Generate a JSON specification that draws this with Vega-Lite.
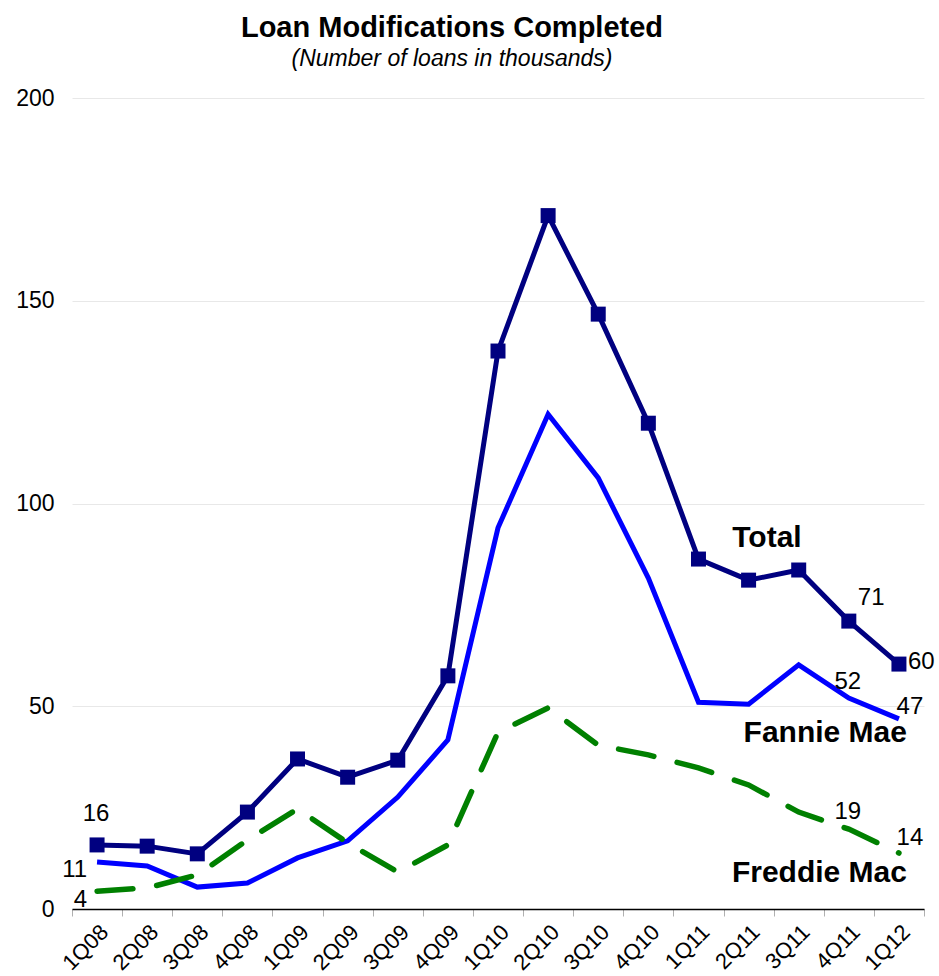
{
  "$schema": "https://vega.github.io/schema/vega-lite/v6.json",
  "autosize": {"type": "none"},
  "padding": {"left": 72, "top": 98, "right": 15, "bottom": 67},
  "width": 852,
  "height": 811,
  "background": "white",
  "config": {
    "font": "Liberation Sans",
    "view": {"stroke": null}
  },
  "title": {
    "text": "Loan Modifications Completed",
    "subtitle": "(Number of loans in thousands)",
    "fontSize": 29,
    "fontWeight": "bold",
    "font": "Liberation Sans",
    "color": "black",
    "subtitleFontSize": 23,
    "subtitleFontStyle": "italic",
    "subtitleFont": "Liberation Sans",
    "subtitleColor": "black",
    "subtitlePadding": 5,
    "anchor": "middle",
    "dx": -46,
    "offset": 16
  },
  "datasets": {
    "series": [
      {"quarter": "1Q08", "series": "Total", "value": 15.8},
      {"quarter": "2Q08", "series": "Total", "value": 15.5},
      {"quarter": "3Q08", "series": "Total", "value": 13.6},
      {"quarter": "4Q08", "series": "Total", "value": 23.9},
      {"quarter": "1Q09", "series": "Total", "value": 37.0},
      {"quarter": "2Q09", "series": "Total", "value": 32.5},
      {"quarter": "3Q09", "series": "Total", "value": 36.7},
      {"quarter": "4Q09", "series": "Total", "value": 57.5},
      {"quarter": "1Q10", "series": "Total", "value": 137.6},
      {"quarter": "2Q10", "series": "Total", "value": 171.0},
      {"quarter": "3Q10", "series": "Total", "value": 146.7},
      {"quarter": "4Q10", "series": "Total", "value": 119.8},
      {"quarter": "1Q11", "series": "Total", "value": 86.3},
      {"quarter": "2Q11", "series": "Total", "value": 81.1},
      {"quarter": "3Q11", "series": "Total", "value": 83.6},
      {"quarter": "4Q11", "series": "Total", "value": 71.0},
      {"quarter": "1Q12", "series": "Total", "value": 60.4},
      {"quarter": "1Q08", "series": "Fannie Mae", "value": 11.6},
      {"quarter": "2Q08", "series": "Fannie Mae", "value": 10.6},
      {"quarter": "3Q08", "series": "Fannie Mae", "value": 5.4},
      {"quarter": "4Q08", "series": "Fannie Mae", "value": 6.4},
      {"quarter": "1Q09", "series": "Fannie Mae", "value": 12.6},
      {"quarter": "2Q09", "series": "Fannie Mae", "value": 16.8},
      {"quarter": "3Q09", "series": "Fannie Mae", "value": 27.6},
      {"quarter": "4Q09", "series": "Fannie Mae", "value": 41.7},
      {"quarter": "1Q10", "series": "Fannie Mae", "value": 94.0},
      {"quarter": "2Q10", "series": "Fannie Mae", "value": 122.0},
      {"quarter": "3Q10", "series": "Fannie Mae", "value": 106.3},
      {"quarter": "4Q10", "series": "Fannie Mae", "value": 81.6},
      {"quarter": "1Q11", "series": "Fannie Mae", "value": 51.0},
      {"quarter": "2Q11", "series": "Fannie Mae", "value": 50.5},
      {"quarter": "3Q11", "series": "Fannie Mae", "value": 60.2},
      {"quarter": "4Q11", "series": "Fannie Mae", "value": 52.0},
      {"quarter": "1Q12", "series": "Fannie Mae", "value": 46.9},
      {"quarter": "1Q08", "series": "Freddie Mac", "value": 4.4},
      {"quarter": "2Q08", "series": "Freddie Mac", "value": 5.2},
      {"quarter": "3Q08", "series": "Freddie Mac", "value": 8.4},
      {"quarter": "4Q08", "series": "Freddie Mac", "value": 17.0},
      {"quarter": "1Q09", "series": "Freddie Mac", "value": 24.7},
      {"quarter": "2Q09", "series": "Freddie Mac", "value": 16.3},
      {"quarter": "3Q09", "series": "Freddie Mac", "value": 9.1},
      {"quarter": "4Q09", "series": "Freddie Mac", "value": 15.8},
      {"quarter": "1Q10", "series": "Freddie Mac", "value": 43.6},
      {"quarter": "2Q10", "series": "Freddie Mac", "value": 49.6},
      {"quarter": "3Q10", "series": "Freddie Mac", "value": 40.4},
      {"quarter": "4Q10", "series": "Freddie Mac", "value": 38.0},
      {"quarter": "1Q11", "series": "Freddie Mac", "value": 34.8},
      {"quarter": "2Q11", "series": "Freddie Mac", "value": 30.6},
      {"quarter": "3Q11", "series": "Freddie Mac", "value": 23.9},
      {"quarter": "4Q11", "series": "Freddie Mac", "value": 19.7},
      {"quarter": "1Q12", "series": "Freddie Mac", "value": 13.8}
    ]
  },
  "encoding": {
    "x": {
      "field": "quarter",
      "type": "ordinal",
      "bandPosition": 0.5,
      "scale": {
        "type": "band",
        "paddingInner": 0,
        "paddingOuter": 0,
        "domain": ["1Q08","2Q08","3Q08","4Q08","1Q09","2Q09","3Q09","4Q09","1Q10","2Q10","3Q10","4Q10","1Q11","2Q11","3Q11","4Q11","1Q12"]
      },
      "axis": {
        "title": null,
        "labelAngle": -45,
        "labelFontSize": 22,
        "labelColor": "black",
        "labelPadding": 5,
        "tickBand": "extent",
        "tickColor": "#b0b0b0",
        "tickSize": 7,
        "domainColor": "black",
        "domainWidth": 1.5,
        "grid": false
      }
    },
    "y": {
      "field": "value",
      "type": "quantitative",
      "scale": {"domain": [0, 200], "nice": false},
      "axis": {
        "title": null,
        "values": [0, 50, 100, 150, 200],
        "labelFontSize": 23,
        "labelColor": "black",
        "labelPadding": 18,
        "ticks": false,
        "domain": false,
        "gridColor": "#e8e8e8",
        "gridWidth": 1
      }
    }
  },
  "layer": [
    {
      "data": {"name": "series"},
      "transform": [{"filter": "datum.series === 'Fannie Mae'"}],
      "mark": {"type": "line", "color": "#0000FF", "strokeWidth": 5}
    },
    {
      "data": {"name": "series"},
      "transform": [{"filter": "datum.series === 'Freddie Mac'"}],
      "mark": {"type": "line", "color": "#008000", "strokeWidth": 5.5, "strokeDash": [36, 24], "strokeCap": "round"}
    },
    {
      "data": {"name": "series"},
      "transform": [{"filter": "datum.series === 'Total'"}],
      "mark": {"type": "line", "color": "#000080", "strokeWidth": 5}
    },
    {
      "data": {"name": "series"},
      "transform": [{"filter": "datum.series === 'Total'"}],
      "mark": {"type": "square", "color": "#000080", "size": 225, "opacity": 1, "filled": true}
    },
    {
      "data": {"values": [
        {"quarter": "1Q08", "value": 23.4, "label": "16"},
        {"quarter": "4Q11", "value": 55.9, "label": "52"},
        {"quarter": "4Q11", "value": 23.8, "label": "19"}
      ]},
      "mark": {"type": "text", "fontSize": 24, "color": "black", "align": "center", "baseline": "middle", "dx": -1},
      "encoding": {"text": {"field": "label"}}
    },
    {
      "data": {"values": [
        {"quarter": "1Q12", "value": 49.7, "label": "47"},
        {"quarter": "1Q12", "value": 17.6, "label": "14"}
      ]},
      "mark": {"type": "text", "fontSize": 24, "color": "black", "align": "center", "baseline": "middle", "dx": 11},
      "encoding": {"text": {"field": "label"}}
    },
    {
      "data": {"values": [
        {"quarter": "4Q11", "value": 76.8, "label": "71"},
        {"quarter": "1Q12", "value": 61.0, "label": "60"}
      ]},
      "mark": {"type": "text", "fontSize": 24, "color": "black", "align": "left", "baseline": "middle", "dx": 9},
      "encoding": {"text": {"field": "label"}}
    },
    {
      "data": {"values": [
        {"quarter": "1Q08", "value": 9.5, "label": "11"},
        {"quarter": "1Q08", "value": 2.2, "label": "4"}
      ]},
      "mark": {"type": "text", "fontSize": 24, "color": "black", "align": "right", "baseline": "middle", "dx": -10},
      "encoding": {"text": {"field": "label"}}
    },
    {
      "data": {"values": [
        {"quarter": "3Q11", "value": 91.6, "label": "Total"}
      ]},
      "mark": {"type": "text", "fontSize": 30, "fontWeight": "bold", "color": "black", "align": "right", "baseline": "middle", "dx": 3},
      "encoding": {"text": {"field": "label"}}
    },
    {
      "data": {"values": [
        {"quarter": "1Q12", "value": 43.5, "label": "Fannie Mae"},
        {"quarter": "1Q12", "value": 8.9, "label": "Freddie Mac"}
      ]},
      "mark": {"type": "text", "fontSize": 30, "fontWeight": "bold", "color": "black", "align": "right", "baseline": "middle", "dx": 8},
      "encoding": {"text": {"field": "label"}}
    }
  ]
}
